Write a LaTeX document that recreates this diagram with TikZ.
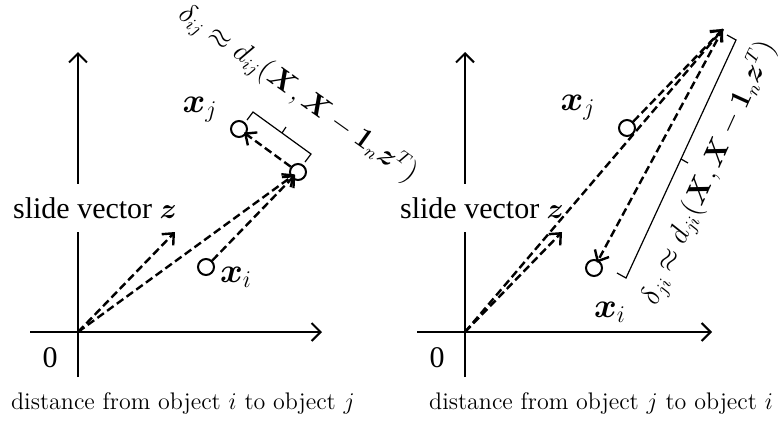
\documentclass[tikz,border=0pt]{standalone}
\usepackage{amsmath,amssymb,bm}
\usepackage{fontspec}
\newfontfamily\timesfont{Liberation Serif}
\usetikzlibrary{arrows.meta,calc}
\tikzset{
    axis/.style={line width=1pt, -{Straight Barb[length=4.5pt,width=9pt]}},
    vec/.style={line width=1.2pt, dash pattern=on 4pt off 2pt, -{Straight Barb[length=4.5pt,width=8pt]}},
    pnt/.style={circle, draw, line width=1pt, minimum size=8pt, inner sep=0pt},
    brace/.style={line width=0.6pt},
    lbl/.style={font=\fontsize{18}{20}\selectfont},
    slide/.style={font=\timesfont\fontsize{15}{18}\selectfont, fill=white, inner ysep=6.5pt},
    zero/.style={font=\timesfont\fontsize{15}{18}\selectfont},
    caption/.style={font=\fontsize{12}{14}\selectfont},
    dist/.style={font=\fontsize{13.5}{16}\selectfont, inner sep=0pt}
}
\begin{document}
\begin{tikzpicture}[x=0.5pt, y=-0.5pt]
\useasboundingbox (0,0) rectangle (779,424);
% left: distance from i to j
\coordinate (O1) at (78,332);
\draw[axis] (30,332) -- (322,332);
\draw[axis] (78,377) -- (78,52);
\node[slide] (sv1) at (95,208) {slide vector $\bm{z}$};
\node[zero] (zero1) at (50,358) {0};
\node[pnt] (xi1) at (206,267) {};
\node[pnt] (xj1) at (239,129) {};
\node[pnt] (xiz1) at (298,172) {};
\coordinate (z1) at (175,232);
\node[lbl] (lxi1) at (236,277) {$\bm{x}_i$};
\node[lbl] (lxj1) at (200,110) {$\bm{x}_j$};
\draw[vec] (O1) -- (z1);
\draw[vec, shorten >=2pt] (O1) -- (xiz1.center);
\draw[vec, shorten >=2pt] (xi1) -- (xiz1.center);
\draw[vec, shorten >=3pt] (xiz1) -- (xj1.center);
\draw[brace] (247,120) -- (253,112) -- (311,154) -- (305,162);
\draw[brace] (282,133) -- (286,127);
\node[dist, rotate=-35.5] (d1) at (298,94) {$\delta_{ij}\approx d_{ij}(\bm{X},\bm{X}-\bm{1}_n\bm{z}^T)$};
\node[caption] (c1) at (183,403) {distance from object $i$ to object $j$};
% right: distance from j to i
\coordinate (O2) at (465,332);
\draw[axis] (417,332) -- (712,332);
\draw[axis] (465,377) -- (465,52);
\node[slide] (sv2) at (482,208) {slide vector $\bm{z}$};
\node[zero] (zero2) at (437,358) {0};
\node[pnt] (xi2) at (594,268) {};
\node[pnt] (xj2) at (627,128) {};
\coordinate (xjz2) at (723,29);
\coordinate (z2) at (562,232);
\node[lbl] (lxi2) at (610,312) {$\bm{x}_i$};
\node[lbl] (lxj2) at (578,108) {$\bm{x}_j$};
\draw[vec] (O2) -- (z2);
\draw[vec] (O2) -- (xjz2);
\draw[vec] (xj2) -- (xjz2);
\draw[vec, shorten >=3pt] (xjz2) -- (xi2.center);
\draw[brace] (727,35) -- (736,40) -- (626,278) -- (617,273);
\draw[brace] (681,159) -- (688,163);
\node[dist, rotate=65.5] (d2) at (709,173) {$\delta_{ji}\approx d_{ji}(\bm{X},\bm{X}-\bm{1}_n\bm{z}^T)$};
\node[caption] (c2) at (601,403) {distance from object $j$ to object $i$};
\end{tikzpicture}
\end{document}
